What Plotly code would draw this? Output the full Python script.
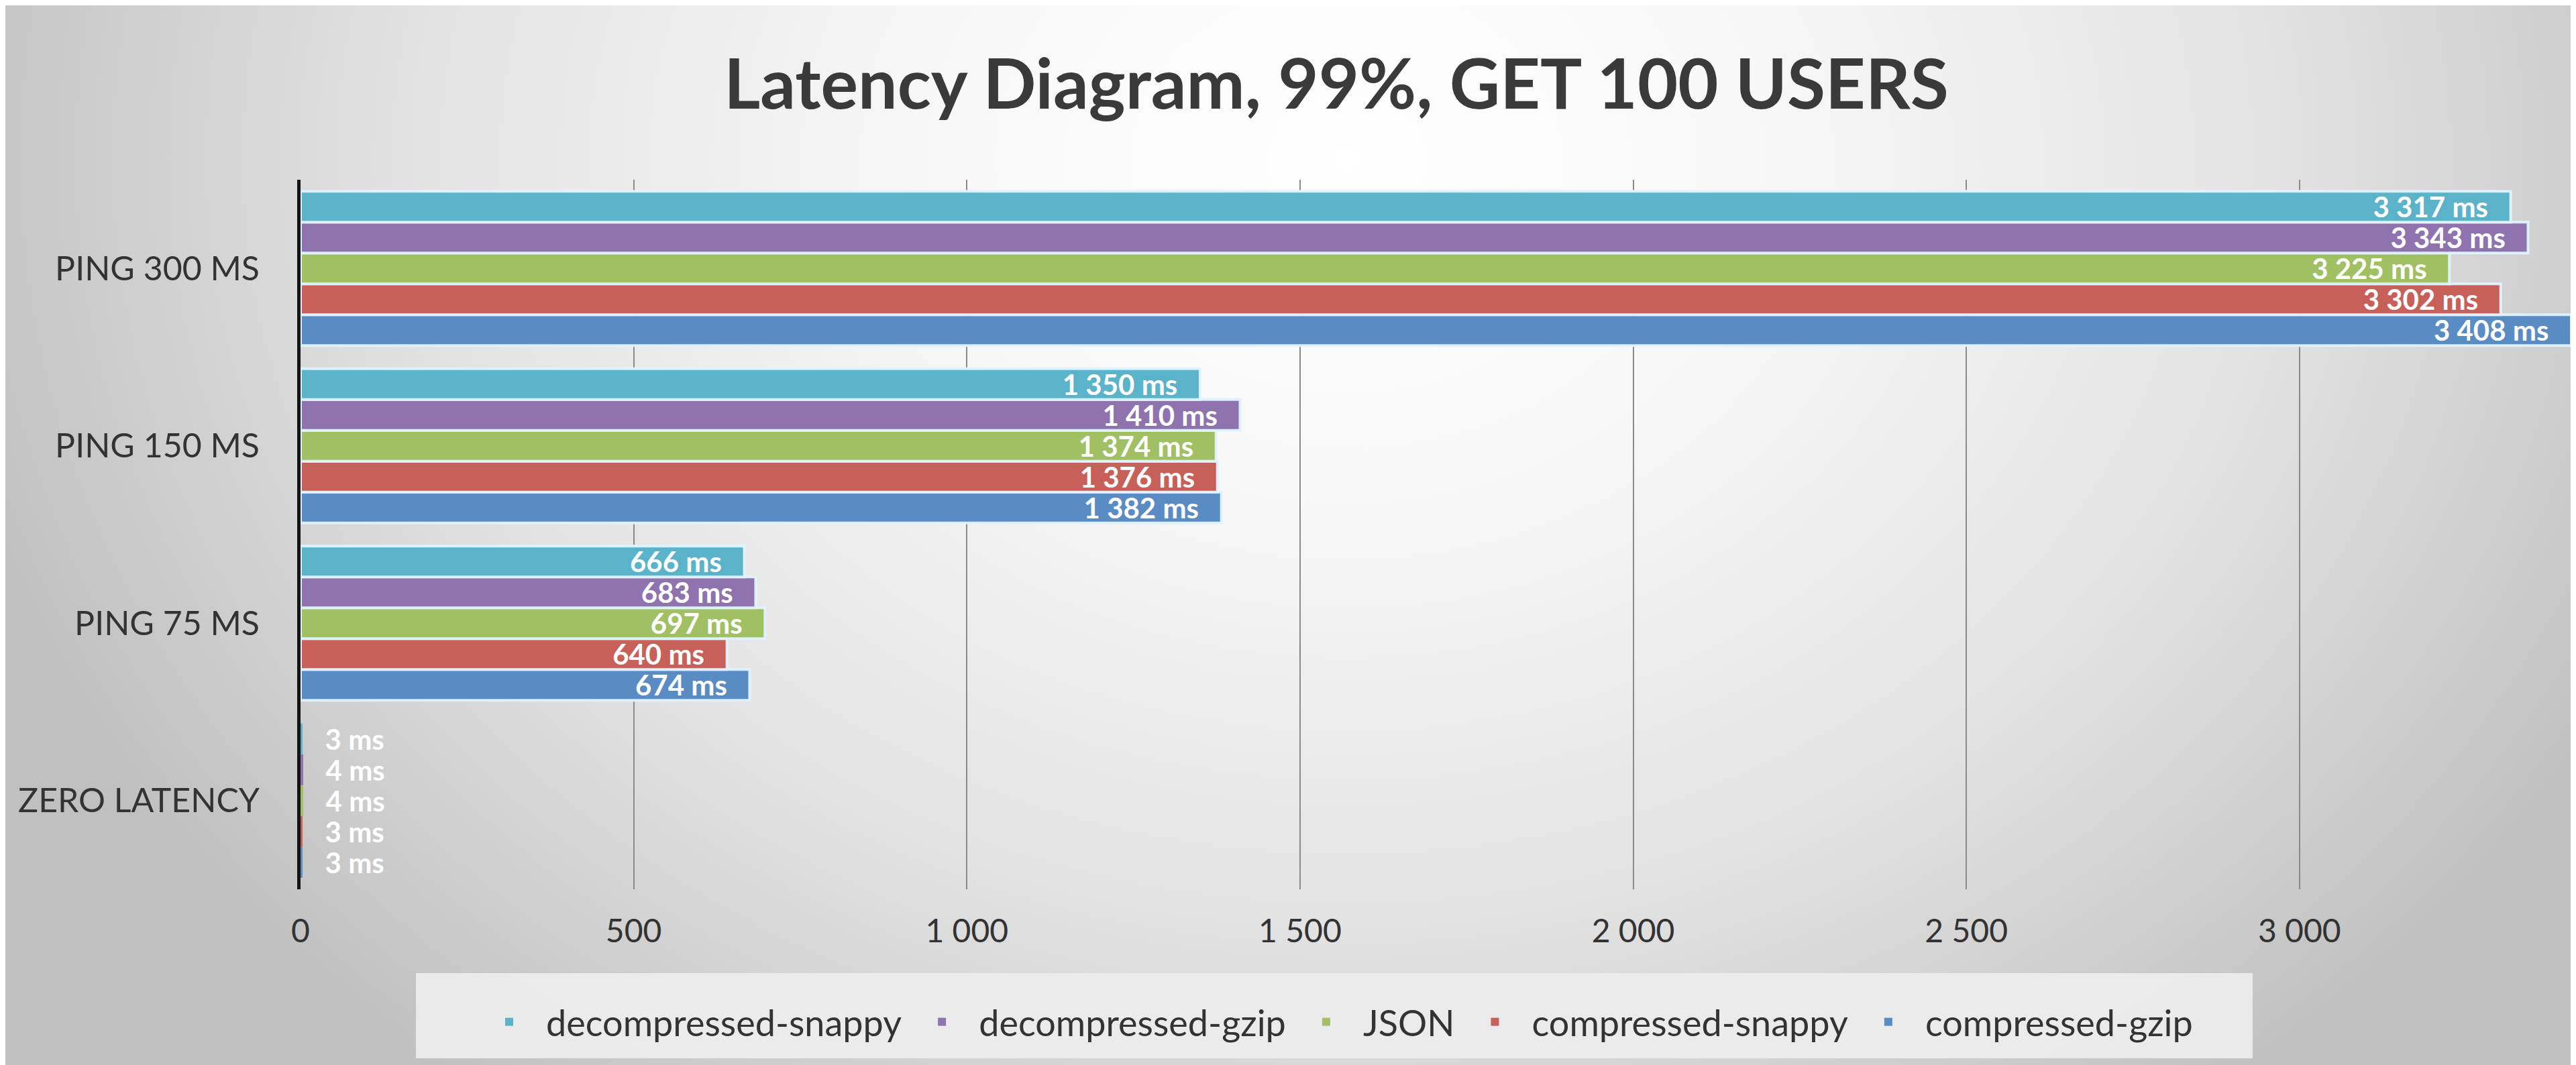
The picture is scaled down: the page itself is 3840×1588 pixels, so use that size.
import base64
import plotly.graph_objects as go

# ---------------- data ----------------
categories = ["ZERO LATENCY", "PING 75 MS", "PING 150 MS", "PING 300 MS"]
series_names = ["compressed-gzip", "compressed-snappy", "JSON",
                "decompressed-gzip", "decompressed-snappy"]
compressed_gzip = [3, 674, 1382, 3408]
compressed_snappy = [3, 640, 1376, 3302]
json_vals = [4, 697, 1374, 3225]
decompressed_gzip = [4, 683, 1410, 3343]
decompressed_snappy = [3, 666, 1350, 3317]
series_values = [compressed_gzip, compressed_snappy, json_vals,
                 decompressed_gzip, decompressed_snappy]
colors = ["#5a8cc4", "#c8605a", "#a0c063", "#8e73ae", "#5bb3c9"]
x_tickvals = [0, 500, 1000, 1500, 2000, 2500, 3000]
x_ticktext = ["0", "500", "1 000", "1 500", "2 000", "2 500", "3 000"]
title_text = "Latency Diagram, 99%, GET 100 USERS"

# ---------------- layout constants ----------------
W, H = 3840, 1588
ML, MR, MT, MB = 440, 8, 260, 270
PW, PH = W - ML - MR, H - MT - MB
FONT = "Lato, 'Open Sans', 'Noto Sans', sans-serif"
NB = "\u00a0"


def fmt(v, outside):
    s = f"{v:,}".replace(",", " ") + " ms"
    return (NB * 3 + s) if outside else (s + NB * 3)


fig = go.Figure()
for name, vals, col in zip(series_names, series_values, colors):
    outside = [v < 50 for v in vals]
    fig.add_trace(go.Bar(
        y=categories, x=vals, name=name, orientation="h",
        marker=dict(color=col, line=dict(color="rgba(225,242,255,0.95)",
                                         width=[0 if o else 4 for o in outside])),
        text=[fmt(v, o) for v, o in zip(vals, outside)],
        textposition=["outside" if o else "inside" for o in outside],
        insidetextanchor="end",
        textfont=dict(family=FONT, size=42, color="white", weight="bold"),
        constraintext="none",
        cliponaxis=False,
    ))

# background radial gradient as svg image
svg = f'''<svg xmlns="http://www.w3.org/2000/svg" width="{W}" height="{H}" viewBox="0 0 {W} {H}" preserveAspectRatio="none">
<defs><radialGradient id="g" gradientUnits="userSpaceOnUse" cx="2000" cy="230" r="2150"
gradientTransform="translate(2000 230) scale(1 0.82) translate(-2000 -230)">
<stop offset="0" stop-color="#ffffff"/><stop offset="0.3" stop-color="#f7f7f7"/>
<stop offset="0.65" stop-color="#e2e2e2"/><stop offset="1" stop-color="#c0c0c0"/>
</radialGradient></defs><rect x="0" y="0" width="{W}" height="{H}" fill="url(#g)"/></svg>'''
src = "data:image/svg+xml;base64," + base64.b64encode(svg.encode()).decode()

fig.update_layout(
    width=W, height=H,
    margin=dict(l=ML, r=MR, t=MT, b=MB),
    paper_bgcolor="#dcdcdc", plot_bgcolor="rgba(0,0,0,0)",
    barmode="group", bargap=0.13, bargroupgap=0.0,
    font=dict(family=FONT, color="#333333"),
    title=dict(text=title_text, x=1984 / W, xanchor="center",
               y=1 - 118 / H, yanchor="middle", yref="container",
               font=dict(family=FONT, size=104, color="#3a3a3a", weight="bold")),
    images=[dict(source=src, xref="paper", yref="paper",
                 x=-ML / PW, y=1 + MT / PH, sizex=W / PW, sizey=H / PH,
                 xanchor="left", yanchor="top", sizing="stretch", layer="below")],
    xaxis=dict(range=[0, 3415], tickvals=x_tickvals, ticktext=x_ticktext,
               showgrid=True, gridcolor="#8a8a8a", gridwidth=2, zeroline=False,
               ticks="", ticklabelstandoff=30,
               tickfont=dict(family=FONT, size=48, color="#333333")),
    yaxis=dict(categoryorder="array", categoryarray=categories,
               showline=True, linecolor="#141414", linewidth=5,
               showgrid=False, ticks="", ticklabelstandoff=46,
               tickfont=dict(family=FONT, size=50, color="#333333")),
    legend=dict(orientation="h", traceorder="reversed",
                x=(1981 - ML) / PW, xanchor="center",
                y=((H - MB) - 1516) / PH,
                yanchor="middle", bgcolor="rgba(0,0,0,0)", itemwidth=100,
                font=dict(family=FONT, size=54, color="#333333")),
    shapes=[dict(type="rect", xref="paper", yref="paper", layer="below",
                 x0=(612 - ML) / PW, x1=(3350 - ML) / PW,
                 y0=((H - MB) - 1570) / PH, y1=((H - MB) - 1443) / PH,
                 fillcolor="rgba(236,236,236,0.95)", line=dict(width=0))],
    showlegend=True,
)

fig.write_html("out.html")
